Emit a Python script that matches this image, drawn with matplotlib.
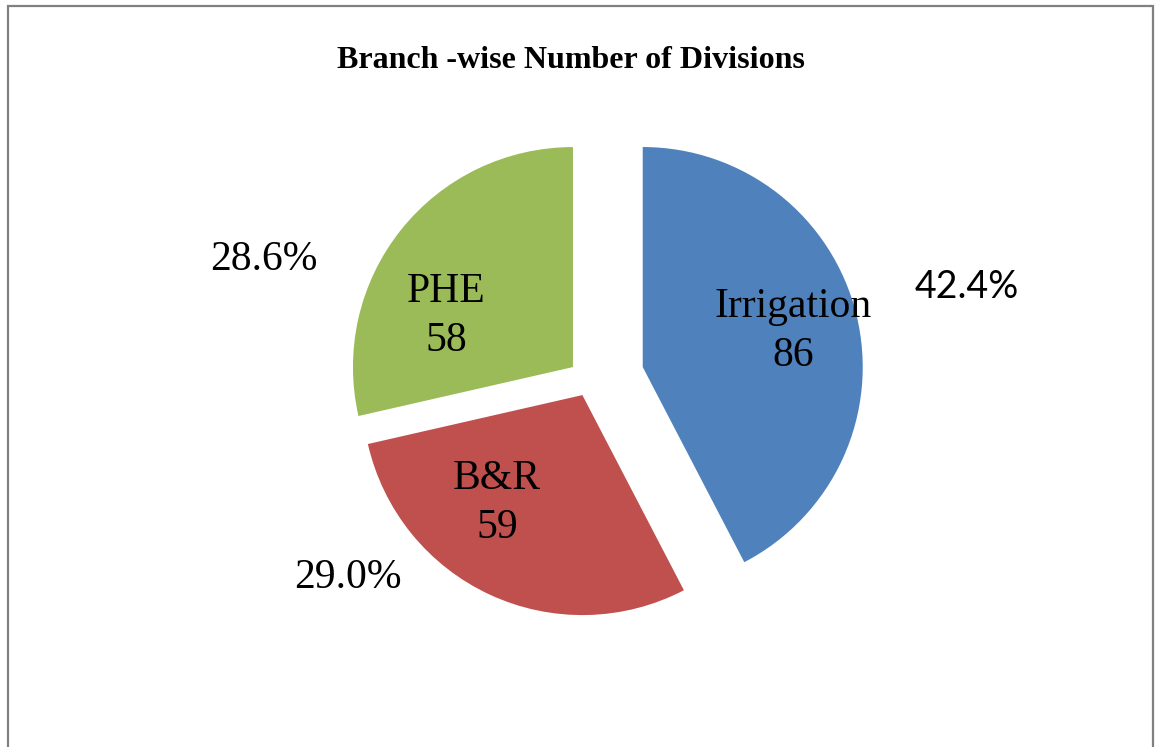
import matplotlib.pyplot as plt
from matplotlib.patches import Rectangle

categories = ['Irrigation', 'B&R', 'PHE']
divisions = [86, 59, 58]
pct_labels = ['42.4%', '29.0%', '28.6%']
colors = ['#4F81BD', '#C0504D', '#9BBB59']
explode = [0.25, 0.075, 0.095]

fig = plt.figure(figsize=(11.55, 7.47), dpi=100)
ax = fig.add_axes([0, 0, 1, 1])

ax.pie(divisions, colors=colors, explode=explode, startangle=90,
       counterclock=False, radius=1.0,
       wedgeprops=dict(linewidth=0))

# map the axes so one radius = 220 px, pie centre at (589, 380) px
ax.set_xlim(-589.3 / 220, (1155 - 589.3) / 220)
ax.set_ylim((380.1 - 747) / 220, 380.1 / 220)
ax.set_aspect('auto')
ax.axis('off')

serif = 'Liberation Serif'
inner_pos = [(0.925, 0.222), (-0.420, -0.560), (-0.651, 0.290)]
for (x, y), name, v in zip(inner_pos, categories, divisions):
    ax.text(x, y, '%s\n%d' % (name, v), ha='center', va='center',
            fontsize=30, family=serif, linespacing=1.35)

outer_pos = [(1.717, 0.423), (-1.097, -0.900), (-1.479, 0.546)]
outer_font = ['Lato', serif, serif]
outer_size = [27, 30, 30]
for (x, y), lab, f, s in zip(outer_pos, pct_labels, outer_font, outer_size):
    ax.text(x, y, lab, ha='center', va='center', fontsize=s, family=f)

fig.text(571 / 1155, 1 - 60 / 747, 'Branch -wise Number of Divisions',
         ha='center', va='center', fontsize=23, fontweight='bold', family=serif)

# chart frame (bottom edge falls outside the picture)
fig.patches.append(Rectangle((8 / 1155, -0.05), (1153 - 8) / 1155, 1.05 - 6 / 747,
                             transform=fig.transFigure, fill=False,
                             edgecolor='#808080', linewidth=1.6))

fig.savefig('out.png', dpi=100, facecolor='white')
